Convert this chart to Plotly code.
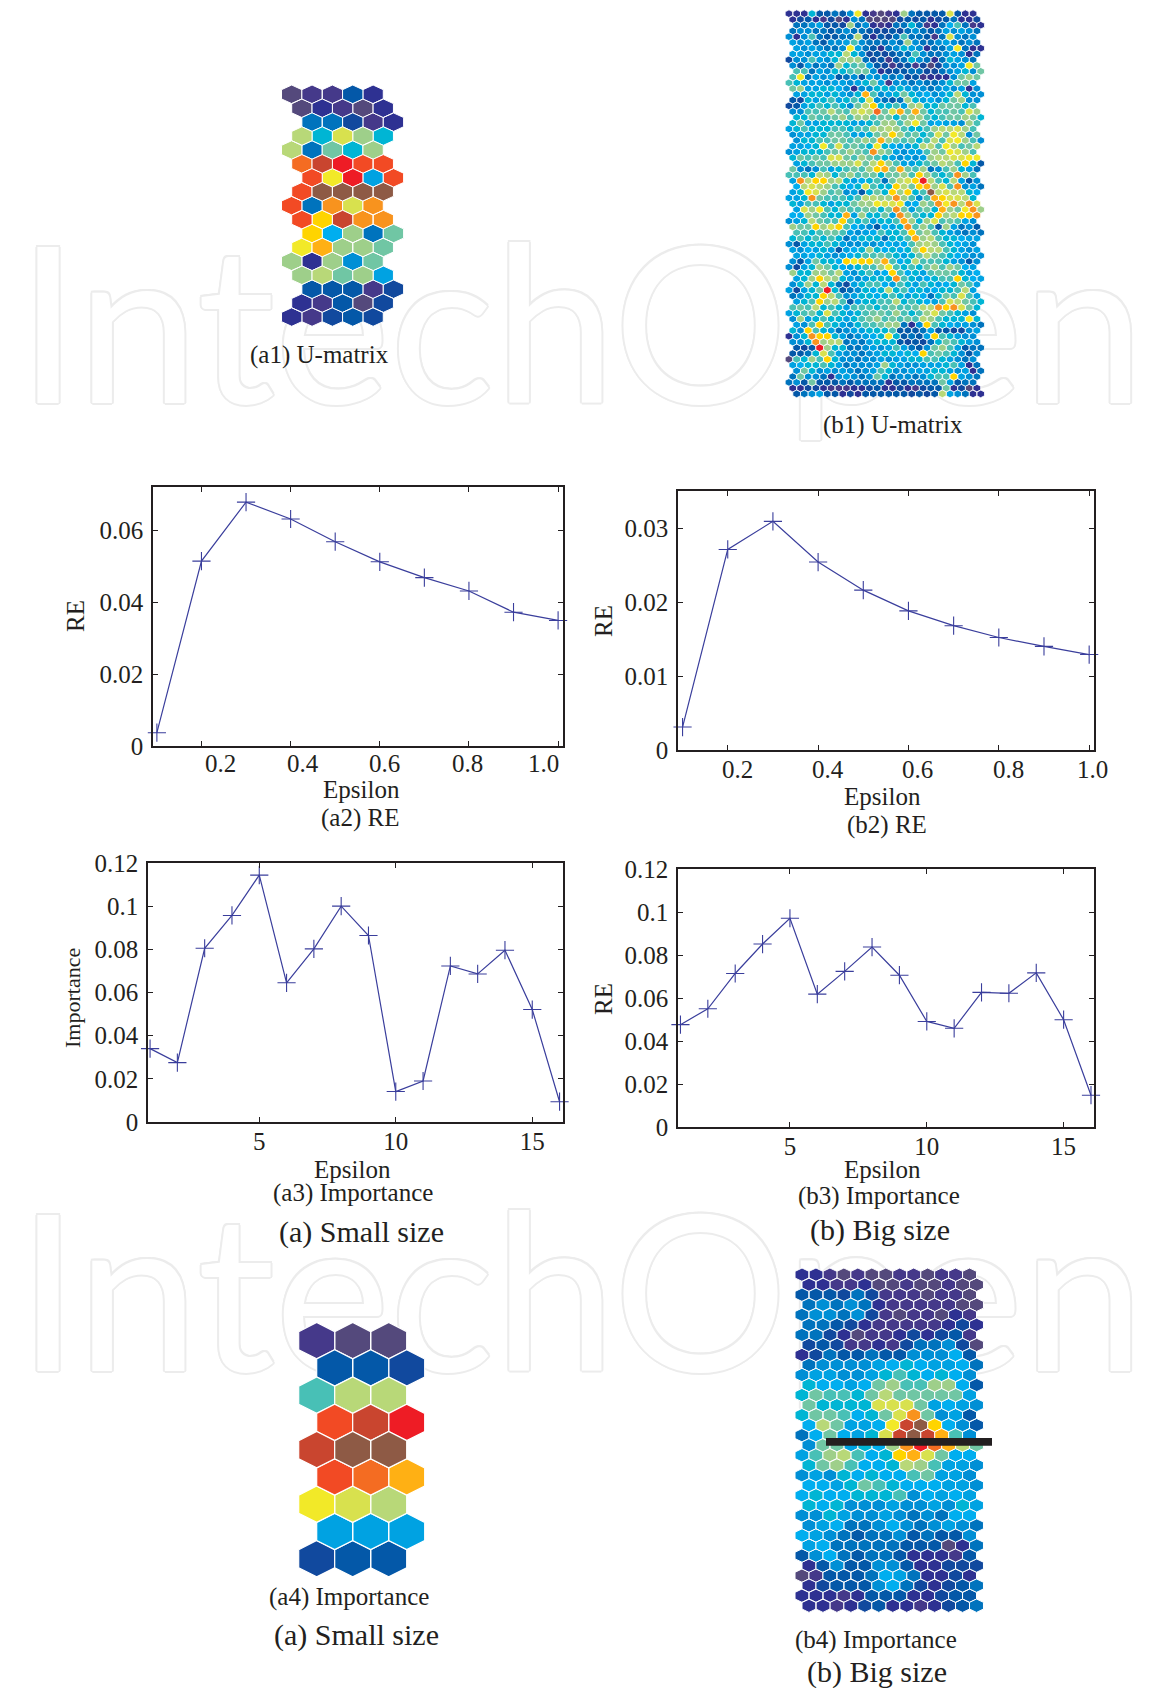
import plotly.graph_objects as go

W, H = 1151, 1688
INK = "#231f20"
LINE = "#3a3e9c"
SERIF = "Liberation Serif"

# ---- line charts -------------------------------------------------------
EPS_A2 = [0.1, 0.2, 0.3, 0.4, 0.5, 0.6, 0.7, 0.8, 0.9, 1.0]
RE_A2 = [0.0037, 0.0514, 0.0678, 0.0631, 0.0568, 0.0512, 0.0468, 0.0431, 0.0372, 0.0349]
EPS_B2 = [0.1, 0.2, 0.3, 0.4, 0.5, 0.6, 0.7, 0.8, 0.9, 1.0]
RE_B2 = [0.0031, 0.0271, 0.0309, 0.0254, 0.0216, 0.0188, 0.0168, 0.0152, 0.0140, 0.0129]
COMP = list(range(1, 17))
IMP_A3 = [0.034, 0.0275, 0.0805, 0.0957, 0.1144, 0.0645, 0.0802, 0.100, 0.0864, 0.0141,
          0.019, 0.0723, 0.0686, 0.0796, 0.0521, 0.0094]
IMP_B3 = [0.0476, 0.055, 0.0714, 0.0851, 0.0971, 0.0618, 0.0724, 0.0837, 0.0706, 0.0491,
          0.0459, 0.0626, 0.0622, 0.0717, 0.0499, 0.0148]
X_TICKS_RE = [0.2, 0.4, 0.6, 0.8, 1.0]
X_LABELS_RE = ["0.2", "0.4", "0.6", "0.8", "1.0"]
X_TICKS_IMP = [5, 10, 15]
X_LABELS_IMP = ["5", "10", "15"]
Y_TICKS_A2 = [0, 0.02, 0.04, 0.06]
Y_LABELS_A2 = ["0", "0.02", "0.04", "0.06"]
Y_TICKS_B2 = [0, 0.01, 0.02, 0.03]
Y_LABELS_B2 = ["0", "0.01", "0.02", "0.03"]
Y_TICKS_IMP = [0, 0.02, 0.04, 0.06, 0.08, 0.1, 0.12]
Y_LABELS_IMP = ["0", "0.02", "0.04", "0.06", "0.08", "0.1", "0.12"]

# ---- hexagon maps: one letter per cell, a = lowest ... x = highest ------
LEVELS = "abcdefghijklmnopqrstuvwx"
PALETTE = ["#54497c", "#45398a", "#2e3192", "#11499e", "#0458a8", "#0073bd", "#008fd5", "#00a2e2",
           "#00aeef", "#00b5d4", "#48c0b6", "#70c6a4", "#9ecf8a", "#b8d878", "#d8e14e", "#f2e928",
           "#ffd400", "#ffb014", "#f8931e", "#f46c22", "#f24a24", "#ee1c25", "#c9452f", "#8e5a45"]

MAP_A1 = ["abbec", "acbac", "ffdbc", "njomj", "nfljm", "twvuu", "upvhu", "uxxxx", "ufsos",
          "uqwss", "qimfl", "prmml", "mcmgl", "mnlmh", "eeebd", "cbead", "cbded"]
MAP_A4 = ["baa", "eed", "knn", "uwv", "wxx", "utr", "pon", "hhh", "dee"]
MAP_B4 = ["ccbabaabbabba", "ccbbcaabaabaa", "eeedfdbbbabba", "fgfgfcbbbbbaa", "fggfgdbabbacb",
          "ffedcbbbbbcdc", "ffdcabbcdcdeb", "dedbbcbdffgda", "cdfeefeegggie", "fgggghijihhif",
          "ghhgghjkjijig", "jiihilmkkmmie", "jlkkjlnlllllh", "ljjjjooolhihg", "jllkijloslghe",
          "inlhhipwxqige", "filihjowxwrkg", "gllhjimsvtrnl", "hkmnkijqrolii", "jlmkiijnmkhhg",
          "ghgjijiiklhhg", "iihjlkjiiihhg", "ijiijjjkgihih", "jijggghgghgjh", "ggjhgghgfgfii",
          "ghiffgigfghgf", "ihgfeffgefeeg", "hifffffeeeacf", "egifeffecccbe", "cegeeggeccddd",
          "abeeefihfccdc", "cdeeegifdcdef", "cccbceeeccdee", "ccbcdeccbcdef"]
MAP_B1 = ["cccjeefegpcbabcmfeeeeoecc", "cdecbdacgfaaaadedecdefccd", "ffgheedmfgcbcffjfbcfikfbc",
          "fggffefgffeddedfgfefhghgf", "gcgkfeeffnecedfkffebfogfg", "hghfegghkgfffgfmgffghgfgf",
          "hghgffgphfecfgjhgcffhpfcc", "hhghhjjnjgdedeffkgffghgcf", "dggkhgjmmmfdebefjgfcfjhgf",
          "gehfgfmjklhedbdebdadgghpl", "kkfhgjjkllgcdeeffddfghjgl", "kpfhghefgehggfgdebcccglml",
          "kjhhhghhghjlhbggfgffgjllh", "lmhhjjigcggjjhjhggfghghcg", "hhjjhjhgjrkghjljhighjnjgg",
          "edjhjkhjkjogfefmjhigjlmgg", "dehjkjkjglnqjjkhmnjjllljk", "ggkklnlknontlorlrljkklkom",
          "jjlkklmkmmklljlmmkjkllmlj", "jlhhjjjjhhjkmmkmplhihhgmk", "hjkjjjkkjkknmnmkjjkmnnomk",
          "ghhjjllkhhjlmqmkljkolpngl", "gjjkkllklmlrmlkljknkopmkg", "hhijpkoklkjpjihhjnnkpmkln",
          "ghjjjkllmlksmlhghhkmlpomk", "jlklkoolkmlkjhghghmnnoopp", "hjkllmmmolnqmkhhjklnmkqje",
          "lgfgkhjklkmqrlrlkmfgkmjhf", "kkkjnmjlmklljllmkqmkjksmk", "hsnqqmnjhijkflnoqvnkjnheg",
          "inonmkjijokjjqnlqrmoksghf", "hjpomklghejljqmqjkxnonnji", "hhjslkkkjknnmmsmkgkrqoonj",
          "jhkkjhjjlmmpoophimlspsnso", "hompkjlkklljlslhkljrmlpsm", "iimlkjjrhmjjlhsmkjjqmnqqs",
          "ghjnlkkqkjkhjjkrmjmoklkhg", "mllqmoqkihgeihjskmkemhfge", "kkjkllkhghikjjkqlmkjhgfgf",
          "jkjkjkjfhjjjfjjkrmnkjjihh", "gehjjkjhgghghihikmnmkjihg", "hgihjhehijmjijijmqnnkjhgh",
          "hhijhghijkklkjhjlnlkjihgg", "gehljjiqpqqmrkijnkkkjhgeg", "gdhjmljihjkkmpkjkjlmkmlih",
          "mjjmmlnhgjkhiqkijhkllkjhi", "hjmqnmjhghjjjskjhijkkqjih", "gjmjnjfdhjkkihkjhkjhijlkh",
          "hdhjlvjefgjijnjkijhijjknh", "fgjjqnkghjjijkjhjifjlkokh", "hjkqmnkehjjkknjkjihkonlkj",
          "klknjkjhkkkjklkklnnsqsolj", "hjkljokjhjkllkmkjkmolkjhg", "gmhjkjjhjklmklklknmkjjjpj",
          "hgkqkjhgjkklmmfcgqkjihhgf", "jgqkjhfghhjjjkeeefheeddgh", "cgjsqqjhfghijpjefehqkjhgg",
          "ggjsmnnfgfhjjjededfjlkjhg", "edevmjjffghghkhfeglmkheff", "eefjokhggfghjjijiqklkjgeg",
          "akjmkqjggfgghghhjjkkjhgfg", "hijjkjhfggghmjhgghhhjkhcf", "gljghghgfghkjgghhhjjhghcf",
          "flggfcghgfgljfggfgjkkqhgf", "fgeleeefeffffceeffffl" + "heff", "ccddcbbbccdeccdcbdeelcdac",
          "efgheecdceeeeeededenhgfcc"]
OFFSET_STANDARD = [0, 0.5]
OFFSET_ZIGZAG = [0, 0.5, 1, 0.5]

WATERMARK = "IntechOpen"

fig = go.Figure()
layout_axes = {}
axis_no = [0]


def new_axes(left, right, top, bottom, xrange, yrange, visible=False):
    axis_no[0] += 1
    n = axis_no[0]
    sfx = "" if n == 1 else str(n)
    xa = dict(domain=[left / W, right / W], range=list(xrange), anchor="y" + sfx, visible=visible, automargin=False)
    ya = dict(domain=[1 - bottom / H, 1 - top / H], range=list(yrange), anchor="x" + sfx, visible=visible, automargin=False)
    layout_axes["xaxis" + sfx] = xa
    layout_axes["yaxis" + sfx] = ya
    return "x" + sfx, "y" + sfx, xa, ya


# page-wide layer for the faint watermark, underneath everything else
xid, yid, _, _ = new_axes(0, W, 0, H, (0, W), (H, 0))
ring = "#ececec"
shadow = ", ".join(f"{dx}px {dy}px 0 {ring}" for dx, dy in
                   [(2, 0), (-2, 0), (0, 2), (0, -2), (1.5, 1.5), (-1.5, 1.5), (1.5, -1.5), (-1.5, -1.5)])
fig.add_trace(go.Scatter(
    x=[581, 581], y=[348, 1316], mode="text", text=[WATERMARK, WATERMARK], xaxis=xid, yaxis=yid,
    textposition="middle center", hoverinfo="skip", showlegend=False, cliponaxis=False,
    textfont=dict(family="Lato", size=218, color="#ffffff", weight=400, shadow=shadow)))


def line_chart(box, xs, ys, xrange, yrange, xt, xl, yt, yl, x_labels_on_ticks=True):
    xid, yid, xa, ya = new_axes(*box, xrange, yrange, visible=True)
    common = dict(showline=True, linecolor=INK, linewidth=1.6, mirror="ticks", ticks="inside", ticklen=5,
                  tickwidth=1, tickcolor=INK, showgrid=False, zeroline=False,
                  tickfont=dict(family=SERIF, size=25, color=INK))
    xa.update(common, tickmode="array", tickvals=xt, ticktext=xl, ticklabelstandoff=-4,
              showticklabels=x_labels_on_ticks)
    ya.update(common, tickmode="array", tickvals=yt, ticktext=yl, ticklabelstandoff=3)
    fig.add_trace(go.Scatter(
        x=xs, y=ys, mode="lines+markers", xaxis=xid, yaxis=yid, cliponaxis=False, showlegend=False,
        line=dict(color=LINE, width=1.2),
        marker=dict(symbol="cross-thin", size=13, line=dict(color=LINE, width=1.1))))


# in the two RE panels the printed labels sit beside their ticks, so they are placed as text
line_chart((153, 563, 487, 746), EPS_A2, RE_A2, (0.0913, 1.011), (0, 0.072), X_TICKS_RE, X_LABELS_RE, Y_TICKS_A2, Y_LABELS_A2, False)
line_chart((678, 1094, 491, 750), EPS_B2, RE_B2, (0.0899, 1.0107), (0, 0.035), X_TICKS_RE, X_LABELS_RE, Y_TICKS_B2, Y_LABELS_B2, False)
line_chart((148, 563, 863, 1122), COMP, IMP_A3, (0.924, 16.126), (0, 0.12), X_TICKS_IMP, X_LABELS_IMP, Y_TICKS_IMP, Y_LABELS_IMP)
line_chart((678, 1094, 869, 1127), COMP, IMP_B3, (0.91, 16.11), (0, 0.12), X_TICKS_IMP, X_LABELS_IMP, Y_TICKS_IMP, Y_LABELS_IMP)


def hex_map(rows, offsets, x0, y0, dx, dy, edge):
    ncols = max(len(r) for r in rows) + 2
    nrows = len(rows)
    # axes of one data unit per cell, so the cell grid sets every position
    left, top = x0 - 2 * dx, y0 - 2 * dy
    right, bottom = left + (ncols + 2) * dx, top + (nrows + 3) * dy
    xid, yid, _, _ = new_axes(left, right, top, bottom, (-2, ncols), (nrows + 1, -2))
    paths = {}
    for r, row in enumerate(rows):
        off = offsets[r % len(offsets)]
        for c, ch in enumerate(row):
            cx, cy = c + off, r
            xs, ys = paths.setdefault(ch, ([], []))
            xs += [cx + 0.5, cx + 0.5, cx, cx - 0.5, cx - 0.5, cx, cx + 0.5, None]
            ys += [cy - 1 / 3, cy + 1 / 3, cy + 2 / 3, cy + 1 / 3, cy - 1 / 3, cy - 2 / 3, cy - 1 / 3, None]
    for ch in LEVELS:
        if ch not in paths:
            continue
        xs, ys = paths[ch]
        fig.add_trace(go.Scatter(
            x=xs, y=ys, mode="lines", fill="toself", fillcolor=PALETTE[LEVELS.index(ch)],
            line=dict(color="#ffffff", width=edge), xaxis=xid, yaxis=yid, hoverinfo="skip", showlegend=False))


hex_map(MAP_A1, OFFSET_ZIGZAG, 291.7, 94.3, 20.35, 13.92, 1.0)
hex_map(MAP_B1, OFFSET_ZIGZAG, 789, 13.7, 7.667, 5.76, 0.8)
hex_map(MAP_A4, OFFSET_STANDARD, 316.7, 1340.7, 36.0, 27.25, 1.2)
hex_map(MAP_B4, OFFSET_STANDARD, 802, 1274.7, 13.96, 10.03, 1.0)


def label(text, x, y, size, angle=0):
    return dict(text=text, x=x / W, y=1 - y / H, xref="paper", yref="paper", showarrow=False,
                xanchor="center", yanchor="middle", textangle=angle,
                font=dict(family=SERIF, size=size, color=INK))


annotations = [
    label("(a1) U-matrix", 319, 355, 25), label("(b1) U-matrix", 893, 425, 25),
    label("Epsilon", 361, 789, 25), label("(a2) RE", 360, 818, 25),
    label("Epsilon", 883, 797, 25), label("(b2) RE", 887, 825, 25),
    label("Epsilon", 352, 1169, 25), label("(a3) Importance", 353, 1193, 25),
    label("Epsilon", 883, 1169, 25), label("(b3) Importance", 879, 1196, 25),
    label("(a) Small size", 361, 1232, 30), label("(b) Big size", 880, 1230, 30),
    label("(a4) Importance", 349, 1597, 25), label("(a) Small size", 356, 1635, 30),
    label("(b4) Importance", 876, 1640, 25), label("(b) Big size", 877, 1672, 30),
    label("RE", 75, 616, 25, -90), label("RE", 603, 621, 25, -90),
    label("Importance", 72, 998, 22, -90), label("RE", 603, 999, 25, -90),
]
annotations += [label(t, x, 763.5, 25) for t, x in zip(X_LABELS_RE, [220.5, 302.5, 384.5, 467, 543])]
annotations += [label(t, x, 769, 25) for t, x in zip(X_LABELS_RE, [737.5, 828, 917, 1008, 1092])]

fig.update_layout(
    template="none",
    width=W, height=H, autosize=False, margin=dict(l=0, r=0, t=0, b=0, pad=0, autoexpand=False),
    paper_bgcolor="#ffffff", plot_bgcolor="rgba(0,0,0,0)", showlegend=False,
    annotations=annotations,
    shapes=[dict(type="rect", xref="paper", yref="paper", x0=826 / W, x1=992 / W,
                 y0=1 - 1445.7 / H, y1=1 - 1438 / H, fillcolor=INK, line=dict(width=0), layer="above")],
    **layout_axes)

fig.write_html("out.html", config=dict(displayModeBar=False, responsive=False),
               post_script="document.body.style.margin='0';document.documentElement.style.overflow='hidden';")
